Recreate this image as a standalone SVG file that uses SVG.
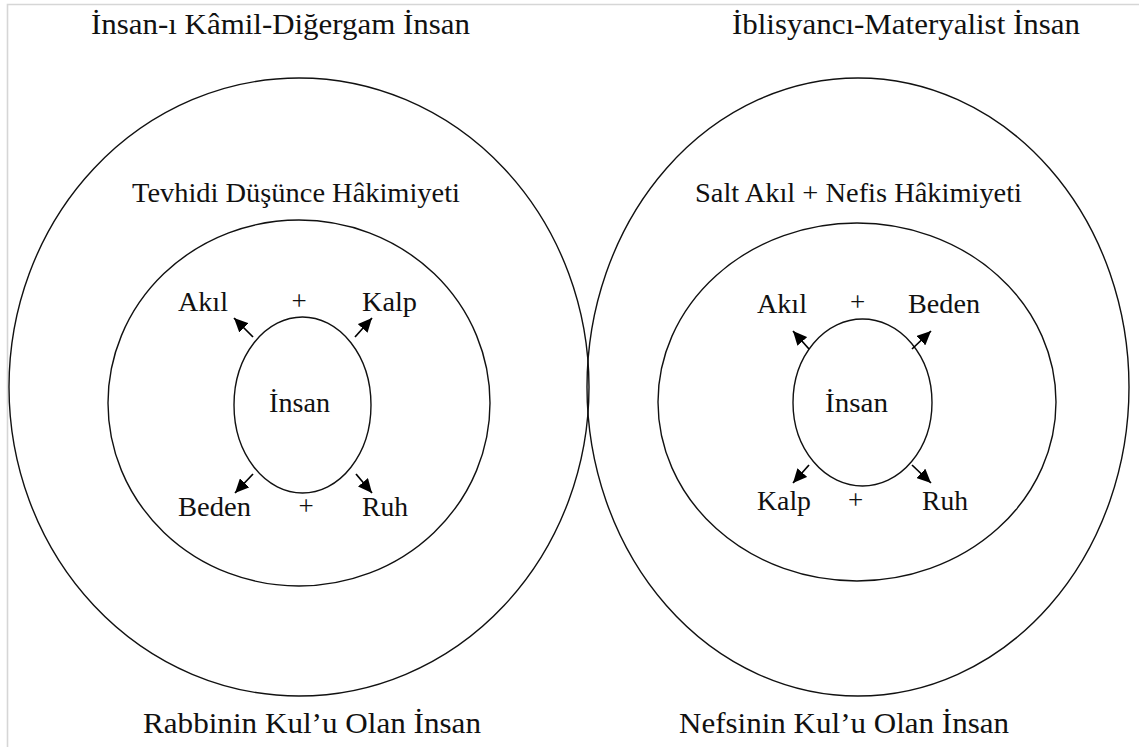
<svg xmlns="http://www.w3.org/2000/svg" width="1139" height="747" viewBox="0 0 1139 747">
<style>
.e{fill:none;stroke:#111;stroke-width:1.4}
.t{font-family:"Liberation Serif","Times New Roman",Tinos,serif;font-size:27px;fill:#111}
.h{font-family:"Liberation Serif","Times New Roman",Tinos,serif;font-size:29px;fill:#111}
.p{font-family:"Liberation Serif","Times New Roman",Tinos,serif;font-size:27px;fill:#111;text-anchor:middle}
.a{stroke:#000;stroke-width:1.7;fill:none}
.fr{stroke:#d6d6d6;stroke-width:1.6;fill:none}
</style>
<defs>
<marker id="ah" markerUnits="userSpaceOnUse" markerWidth="15" markerHeight="13" refX="14" refY="6.5" orient="auto">
<path d="M0,0 L14,6.5 L0,13 z" fill="#000"/>
</marker>
</defs>
<rect width="1139" height="747" fill="#fff"/>
<path class="fr" d="M7.5,747 V4.5 H1139"/>
<g id="left-outer">
<ellipse class="e" cx="299" cy="387" rx="290" ry="309"/>
<text class="h" x="91" y="34" textLength="379" lengthAdjust="spacingAndGlyphs">İnsan-ı Kâmil-Diğergam İnsan</text>
<text class="h" x="143" y="733" textLength="338" lengthAdjust="spacingAndGlyphs">Rabbinin Kul’u Olan İnsan</text>
</g>
<g id="left-middle">
<ellipse class="e" cx="299" cy="403" rx="191" ry="183"/>
<text class="t" x="132" y="202" textLength="328" lengthAdjust="spacingAndGlyphs">Tevhidi Düşünce Hâkimiyeti</text>
</g>
<g id="left-inner">
<ellipse class="e" cx="302.5" cy="405" rx="68.5" ry="88"/>
<text class="t" x="269" y="412" textLength="61" lengthAdjust="spacingAndGlyphs">İnsan</text>
</g>
<g id="left-akil"><text class="t" x="178" y="311" textLength="50" lengthAdjust="spacingAndGlyphs">Akıl</text></g>
<g id="left-kalp"><text class="t" x="362" y="311" textLength="55" lengthAdjust="spacingAndGlyphs">Kalp</text></g>
<g id="left-beden"><text class="t" x="178" y="516" textLength="73" lengthAdjust="spacingAndGlyphs">Beden</text></g>
<g id="left-ruh"><text class="t" x="362" y="516" textLength="46" lengthAdjust="spacingAndGlyphs">Ruh</text></g>
<g id="left-plus-top"><text class="p" x="299" y="310">+</text></g>
<g id="left-plus-bottom"><text class="p" x="306" y="515">+</text></g>
<g id="right-outer">
<ellipse class="e" cx="858" cy="387" rx="271" ry="309"/>
<text class="h" x="732" y="34" textLength="348" lengthAdjust="spacingAndGlyphs">İblisyancı-Materyalist İnsan</text>
<text class="h" x="679" y="733" textLength="330" lengthAdjust="spacingAndGlyphs">Nefsinin Kul’u Olan İnsan</text>
</g>
<g id="right-middle">
<ellipse class="e" cx="857" cy="402" rx="199" ry="179"/>
<text class="t" x="695" y="202" textLength="327" lengthAdjust="spacingAndGlyphs">Salt Akıl + Nefis Hâkimiyeti</text>
</g>
<g id="right-inner">
<ellipse class="e" cx="862.5" cy="402.5" rx="69.5" ry="83.5"/>
<text class="t" x="825" y="412" textLength="63" lengthAdjust="spacingAndGlyphs">İnsan</text>
</g>
<g id="right-akil"><text class="t" x="757" y="313" textLength="50" lengthAdjust="spacingAndGlyphs">Akıl</text></g>
<g id="right-beden"><text class="t" x="908" y="313" textLength="72" lengthAdjust="spacingAndGlyphs">Beden</text></g>
<g id="right-kalp"><text class="t" x="757" y="510" textLength="54" lengthAdjust="spacingAndGlyphs">Kalp</text></g>
<g id="right-ruh"><text class="t" x="922" y="510" textLength="46" lengthAdjust="spacingAndGlyphs">Ruh</text></g>
<g id="right-plus-top"><text class="p" x="857.5" y="311">+</text></g>
<g id="right-plus-bottom"><text class="p" x="855.5" y="509">+</text></g>
<g id="connectors">
<line class="a" x1="253" y1="337" x2="234" y2="318" marker-end="url(#ah)"/>
<line class="a" x1="355" y1="337" x2="372" y2="318" marker-end="url(#ah)"/>
<line class="a" x1="253" y1="474" x2="235" y2="493" marker-end="url(#ah)"/>
<line class="a" x1="356" y1="474" x2="372" y2="493" marker-end="url(#ah)"/>
<line class="a" x1="809" y1="349" x2="793" y2="331" marker-end="url(#ah)"/>
<line class="a" x1="912" y1="349" x2="931" y2="331" marker-end="url(#ah)"/>
<line class="a" x1="809" y1="465" x2="793" y2="483" marker-end="url(#ah)"/>
<line class="a" x1="912" y1="465" x2="931" y2="483" marker-end="url(#ah)"/>
</g>
</svg>
